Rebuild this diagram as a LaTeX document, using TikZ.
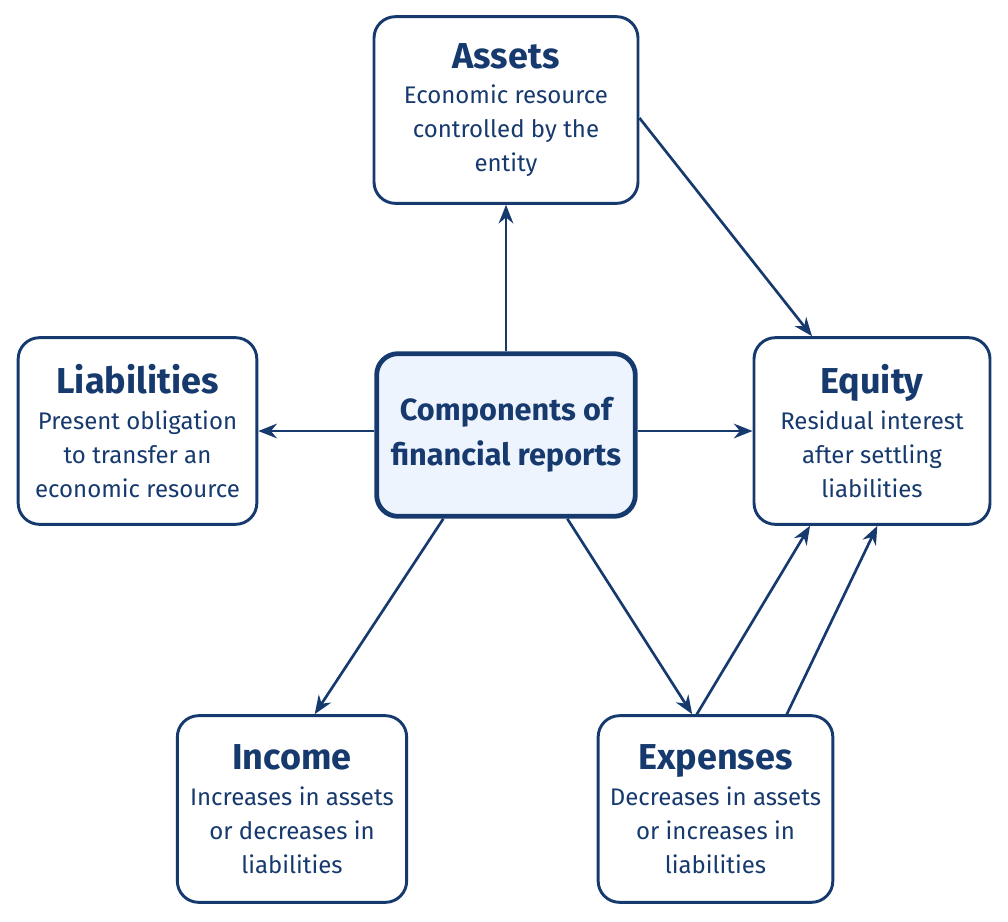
\documentclass[tikz,border=0pt]{standalone}
\usepackage{fontspec}
\setmainfont{Fira Sans}
\usetikzlibrary{arrows.meta}
\definecolor{navy}{HTML}{173A6E}
\definecolor{paleblue}{HTML}{EEF4FD}
\newcommand{\boxtitle}[1]{{\bfseries\fontsize{27}{32}\selectfont #1}\\[1pt]}

\begin{document}
\begin{tikzpicture}[x=0.75pt, y=-0.75pt,
    part/.style = {draw=navy, line width=2.2pt, rounded corners=16pt, fill=white,
      text=navy, align=center, font=\fontsize{18}{25.5}\selectfont,
      minimum width=176pt, minimum height=140pt, inner sep=0pt},
    hub/.style = {part, fill=paleblue, line width=3.6pt, minimum width=194pt,
      minimum height=122pt, font=\bfseries\fontsize{23}{34}\selectfont},
    link/.style = {draw=navy, line width=2pt, -{Stealth[length=14pt, width=11pt]}}]
  \useasboundingbox (0,0) rectangle (1008,922);

  \node[hub] (c) at (506,435) {Components of\\ financial reports};
  \node[part, minimum width=198pt] (a) at (506,110) {\boxtitle{Assets}Economic resource\\ controlled by the\\ entity};
  \node[part, minimum width=179pt] (l) at (137.5,431) {\boxtitle{Liabilities}Present obligation\\ to transfer an\\ economic resource};
  \node[part, minimum width=177pt] (e) at (872,431) {\boxtitle{Equity}Residual interest\\ after settling\\ liabilities};
  \node[part, minimum width=172pt] (i) at (292,809) {\boxtitle{Income}Increases in assets\\ or decreases in\\ liabilities};
  \node[part, minimum width=176pt] (x) at (715.5,809) {\boxtitle{Expenses}Decreases in assets\\ or increases in\\ liabilities};

  \draw[link] (c.north) -- (a.south);
  \draw[link] (c.west |- l.east) -- (l.east);
  \draw[link] (c.east |- e.west) -- (e.west);
  \draw[link] ([yshift=-6pt]a.east) -- ([xshift=-45pt]e.north);
  \draw[link] ([xshift=-47pt]c.south) -- ([xshift=17pt]i.north);
  \draw[link] ([xshift=46pt]c.south) -- ([xshift=-17.5pt]x.north);
  \draw[link] ([xshift=-14pt]x.north) -- ([xshift=-46.5pt]e.south);
  \draw[link] ([xshift=53.5pt]x.north) -- ([xshift=4pt]e.south);
\end{tikzpicture}
\end{document}
